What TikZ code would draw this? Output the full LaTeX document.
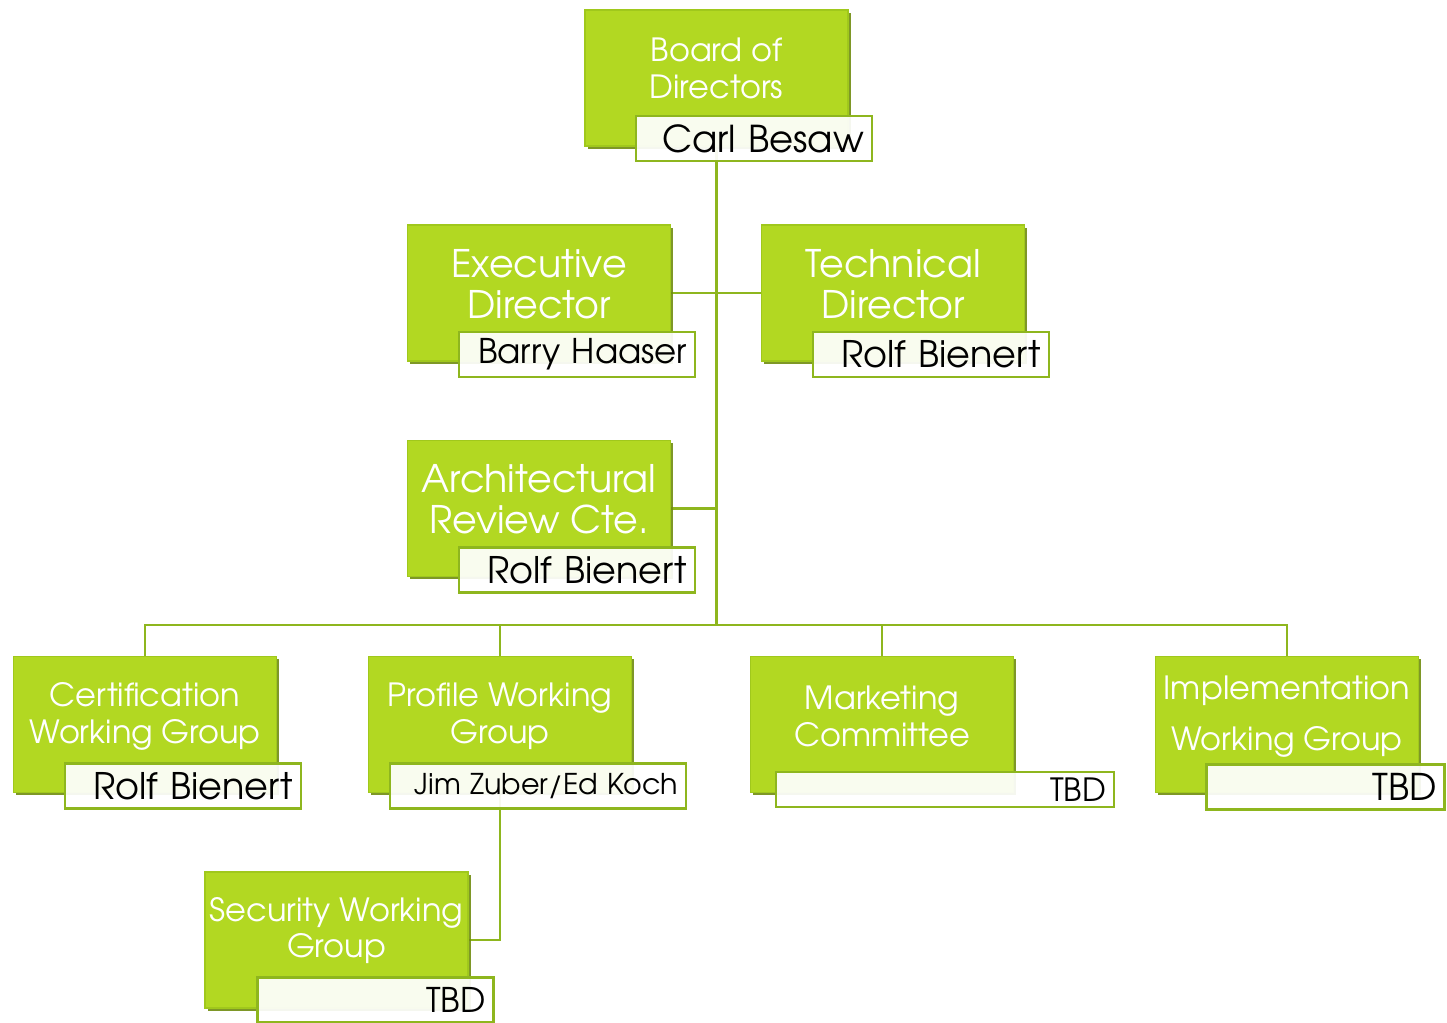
\documentclass[tikz,border=0pt]{standalone}
\usepackage{fontspec}
\setmainfont{TeX Gyre Adventor}
\usetikzlibrary{shadows,backgrounds}

\definecolor{boxgreen}{RGB}{178,216,34}
\definecolor{boxedge}{RGB}{160,200,28}
\definecolor{boxshade}{RGB}{112,140,16}
\definecolor{linkgreen}{RGB}{142,182,30}
\newcommand\fs[2]{\fontsize{#1}{#2}\selectfont}

\tikzset{
  orgbox/.style={rectangle, fill=boxgreen, draw=boxedge, line width=0.6pt, inner sep=0pt,
    minimum width=131.5pt, minimum height=68pt,
    drop shadow={shadow xshift=1.3pt, shadow yshift=-1.3pt, fill=boxshade, opacity=.9}},
  orgtext/.style={text=white, align=center, inner sep=0pt},
  namebox/.style={rectangle, fill=white, fill opacity=.93, text opacity=1, draw=linkgreen,
    line width=1.4pt, inner xsep=4pt, inner ysep=0pt, minimum height=22.5pt,
    text width=#1, align=right, text=black},
  namebox/.default=110pt,
  link/.style={draw=linkgreen, line width=1.4pt}
}

\begin{document}
\begin{tikzpicture}[x=0.5pt, y=-0.5pt]
  \useasboundingbox (0,0) rectangle (1447,1023);

  % board and directors
  \node[orgbox, label={[orgtext, font=\fs{16}{18.5}, yshift=5pt]center:{Board of\\Directors}}] (bod) at (716.5,78) {};
  \node[namebox, font=\fs{18.5}{21}] (bodn) at (754,138.5) {Carl Besaw};

  \node[orgbox, label={[orgtext, font=\fs{19}{20.5}, yshift=4.5pt]center:{Executive\\Director}}] (exd) at (539,293) {};
  \node[namebox, font=\fs{17}{20}] (exdn) at (577,354.5) {Barry Haaser};

  \node[orgbox, label={[orgtext, font=\fs{19}{20.5}, yshift=4.5pt]center:{Technical\\Director}}] (tcd) at (893,293) {};
  \node[namebox, font=\fs{18.3}{21}] (tcdn) at (931,354.5) {Rolf Bienert};

  \node[orgbox, label={[orgtext, font=\fs{19}{20.5}, yshift=4.5pt]center:{Architectural\\Review Cte.}}] (arc) at (539,508.5) {};
  \node[namebox, font=\fs{18.3}{21}] (arcn) at (577,570) {Rolf Bienert};

  % working groups
  \node[orgbox, label={[orgtext, font=\fs{16}{18.5}, yshift=4pt]center:{Certification\\Working Group}}] (cwg) at (145,724.5) {};
  \node[namebox, font=\fs{18.3}{21}] (cwgn) at (183,786) {Rolf Bienert};

  \node[orgbox, label={[orgtext, font=\fs{16}{18.5}, yshift=4pt]center:{Profile Working\\Group}}] (pwg) at (500,724.5) {};
  \node[namebox=140pt, font=\fs{14.3}{18}] (pwgn) at (538,786) {Jim Zuber/Ed Koch};

  \node[orgbox, label={[orgtext, font=\fs{16}{18.5}, yshift=4pt]center:{Marketing\\Committee}}] (mkt) at (882,724.5) {};
  \node[namebox=161pt, minimum height=17.5pt, font=\fs{16}{17}] (mktn) at (945,789.5) {TBD};

  \node[orgbox, label={[orgtext, font=\fs{16}{25.5}, yshift=4pt]center:{Implementation\\Working Group}}] (iwg) at (1287,724.5) {};
  \node[namebox=111pt, font=\fs{18.4}{19}] (iwgn) at (1325.5,787) {TBD};

  \node[orgbox, label={[orgtext, font=\fs{16}{18}, yshift=4.5pt]center:{Security Working\\Group}}] (swg) at (336.5,940) {};
  \node[namebox=110pt, font=\fs{17}{18}] (swgn) at (375.5,1000) {TBD};

  \begin{scope}[on background layer]
    \coordinate (bus) at (716.5,625);
    \draw[link] (bod.south) -- (bus);
    \draw[link] (exd.east) -- (exd.east -| bod.south);
    \draw[link] (tcd.west) -- (tcd.west -| bod.south);
    \draw[link] (arc.east) -- (arc.east -| bod.south);
    \foreach \g in {cwg,pwg,mkt,iwg}
      \draw[link] (bus) -| (\g.north);
    \draw[link] (pwg.south) |- (swg.east);
  \end{scope}
\end{tikzpicture}
\end{document}
